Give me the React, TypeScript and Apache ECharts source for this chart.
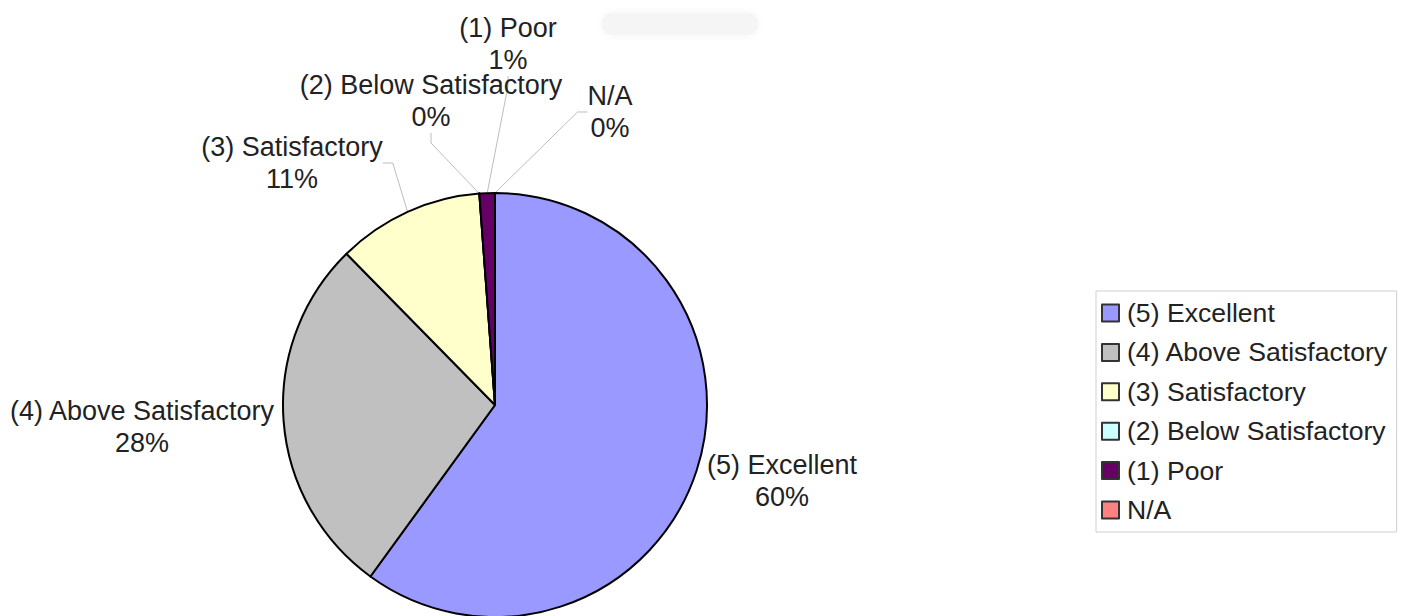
import React, { useEffect, useRef } from "react";
import * as echarts from "echarts";

const categories = [
  "(5) Excellent",
  "(4) Above Satisfactory",
  "(3) Satisfactory",
  "(2) Below Satisfactory",
  "(1) Poor",
  "N/A",
];
const counts = [102, 47, 19, 0, 2, 0];
const colors = ["#9999FF", "#C0C0C0", "#FFFFCC", "#CCFFFF", "#660066", "#FF8080"];
const showLines = [false, false, true, true, true, true];
// label block centres (layout only)
const labelPos = [
  [782, 481],
  [142, 427],
  [292, 163],
  [431, 101],
  [508, 44],
  [610, 112],
];

const FONT = "Liberation Sans";

export default function App() {
  const ref = useRef<HTMLDivElement>(null);
  useEffect(() => {
    if (!ref.current) return;
    const chart = echarts.init(ref.current, undefined, { renderer: "svg" });
    chart.setOption({
      animation: false,
      backgroundColor: "#ffffff",
      textStyle: { fontFamily: FONT },
      graphic: [
        {
          type: "rect",
          shape: { x: 602, y: 13, width: 156, height: 22, r: 10 },
          style: { fill: "#f5f5f5", shadowBlur: 10, shadowColor: "#f5f5f5" },
          silent: true,
        },
      ],
      legend: {
        orient: "vertical",
        left: 1096,
        top: 291,
        padding: [7, 8, 7, 5],
        borderColor: "#cfcfcf",
        borderWidth: 1,
        backgroundColor: "#ffffff",
        icon: "rect",
        itemWidth: 17,
        itemHeight: 17,
        itemGap: 9.4,
        itemStyle: { borderColor: "#333333", borderWidth: 2 },
        textStyle: {
          fontFamily: FONT,
          fontSize: 26.6,
          color: "#222222",
          lineHeight: 30,
          padding: [0, 0, 0, 3],
        },
        data: categories,
      },
      series: [
        {
          type: "pie",
          center: [495, 405],
          radius: 212,
          startAngle: 90,
          clockwise: true,
          avoidLabelOverlap: false,
          itemStyle: { borderColor: "#000000", borderWidth: 2 },
          emphasis: { disabled: true },
          label: {
            show: true,
            position: "outside",
            fontFamily: FONT,
            fontSize: 27,
            lineHeight: 32,
            color: "#222222",
            align: "center",
            formatter: (p: any) => `${p.name}\n${Math.round(p.percent)}%`,
          },
          labelLine: {
            show: true,
            length: 20,
            length2: 10,
            lineStyle: { color: "#bdbdbd", width: 1 },
          },
          labelLayout: (params: any) => {
            const pos = labelPos[params.dataIndex];
            return {
              x: pos[0],
              y: pos[1],
              align: "center",
              verticalAlign: "middle",
            };
          },
          data: categories.map((name, i) => ({
            name,
            value: counts[i],
            itemStyle: { color: colors[i] },
            labelLine: { show: showLines[i] },
          })),
        },
      ],
    });
    return () => chart.dispose();
  }, []);
  return (
    <div
      ref={ref}
      style={{ position: "fixed", left: 0, top: 0, width: 1407, height: 616 }}
    />
  );
}
